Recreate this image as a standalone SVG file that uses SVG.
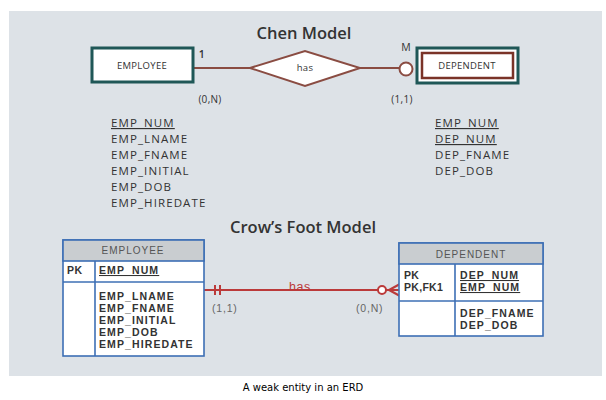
<svg xmlns="http://www.w3.org/2000/svg" width="606" height="400" viewBox="0 0 606 400">
<style>
.title{font-family:"Open Sans","Liberation Sans",sans-serif;font-weight:600;font-size:16.5px;fill:#333;text-anchor:middle}
.chenlab{font-family:"Open Sans","Liberation Sans",sans-serif;font-size:9.5px;fill:#333;text-anchor:middle;letter-spacing:0.3px}
.attr{font-family:"Open Sans","Liberation Sans",sans-serif;font-size:11.5px;fill:#333;letter-spacing:1.1px}
.u{text-decoration:underline}
.cf{font-family:"Liberation Sans",Arial,sans-serif;font-weight:bold;font-size:10.5px;fill:#333;letter-spacing:1.1px}
.hdr{font-family:"Liberation Sans",Arial,sans-serif;font-size:10px;fill:#555;letter-spacing:1px;text-anchor:middle}
.card{font-family:"Liberation Sans",Arial,sans-serif;font-size:10.5px;fill:#666;letter-spacing:0.8px}
.tbl{fill:#fff;stroke:#3d6fb5;stroke-width:1.6}
.head{fill:#c9cdd0;stroke:#3d6fb5;stroke-width:1.6}
.div{stroke:#3d6fb5;stroke-width:1.6;fill:none}
.teal{fill:#fff;stroke:#1f5757;stroke-width:3}
.brown{stroke:#8a4c42;stroke-width:2;fill:none}
.red{stroke:#bb3a3a;stroke-width:2;fill:none}
</style>
<rect x="0" y="0" width="606" height="400" fill="#fff"/>
<rect x="9" y="11" width="593" height="365" fill="#dde2e7"/>

<text class="title" x="304" y="39">Chen Model</text>
<text class="title" x="303" y="233">Crow’s Foot Model</text>

<g id="connectors">
  <line class="brown" x1="193" y1="68" x2="250" y2="68"/>
  <line class="brown" x1="360" y1="68" x2="400" y2="68"/>
  <circle class="brown" cx="406" cy="69" r="6.5" style="fill:#fff"/>
  <text class="chenlab" x="202" y="58" style="font-size:10.5px;font-weight:600">1</text>
  <text class="chenlab" x="406" y="51" style="font-size:10.5px">M</text>
  <text class="chenlab" x="210" y="103" style="font-size:10px">(0,N)</text>
  <text class="chenlab" x="402" y="103" style="font-size:10px">(1,1)</text>

  <text x="300" y="291" style="font-family:'Liberation Sans',Arial,sans-serif;font-size:12.5px;fill:#bb3a3a;text-anchor:middle;letter-spacing:0.6px">has</text>
  <line class="red" x1="204" y1="290" x2="378" y2="290"/>
  <line class="red" x1="215" y1="285" x2="215" y2="295"/>
  <line class="red" x1="220" y1="285" x2="220" y2="295"/>
  <circle class="red" cx="382" cy="290" r="4" style="fill:#fff"/>
  <line class="red" x1="386" y1="290" x2="400" y2="290"/>
  <line class="red" x1="389" y1="290" x2="400" y2="284"/>
  <line class="red" x1="389" y1="290" x2="400" y2="296"/>
  <text class="card" x="212" y="312">(1,1)</text>
  <text class="card" x="356" y="312">(0,N)</text>
</g>

<g id="chen-employee">
  <rect class="teal" x="92" y="48" width="101" height="34"/>
  <text class="chenlab" x="142" y="69">EMPLOYEE</text>
</g>
<g id="chen-has">
  <polygon points="250,68 305,51 360,68 305,86" fill="#fff" stroke="#8a4c42" stroke-width="2"/>
  <text class="chenlab" x="305" y="71">has</text>
</g>
<g id="chen-dependent">
  <rect class="teal" x="417" y="48" width="101" height="35"/>
  <rect x="422" y="53" width="91" height="25" fill="none" stroke="#7a3328" stroke-width="2.5"/>
  <text class="chenlab" x="467" y="69">DEPENDENT</text>
</g>

<g id="chen-employee-attrs">
  <text class="attr u" x="111" y="127">EMP_NUM</text>
  <text class="attr" x="111" y="143">EMP_LNAME</text>
  <text class="attr" x="111" y="159">EMP_FNAME</text>
  <text class="attr" x="111" y="175">EMP_INITIAL</text>
  <text class="attr" x="111" y="191">EMP_DOB</text>
  <text class="attr" x="111" y="207">EMP_HIREDATE</text>
</g>
<g id="chen-dependent-attrs">
  <text class="attr u" x="435" y="127">EMP_NUM</text>
  <text class="attr u" x="435" y="143">DEP_NUM</text>
  <text class="attr" x="435" y="159">DEP_FNAME</text>
  <text class="attr" x="435" y="175">DEP_DOB</text>
</g>

<g id="cf-employee">
  <rect class="tbl" x="63" y="240" width="141" height="116"/>
  <rect class="head" x="63" y="240" width="141" height="21"/>
  <line class="div" x1="63" y1="282" x2="204" y2="282"/>
  <line class="div" x1="95" y1="261" x2="95" y2="356"/>
  <text class="hdr" x="133" y="254">EMPLOYEE</text>
  <text class="cf" x="67" y="274" style="letter-spacing:0.5px">PK</text>
  <text class="cf u" x="99" y="274">EMP_NUM</text>
  <text class="cf" x="99" y="300">EMP_LNAME</text>
  <text class="cf" x="99" y="312">EMP_FNAME</text>
  <text class="cf" x="99" y="324">EMP_INITIAL</text>
  <text class="cf" x="99" y="336">EMP_DOB</text>
  <text class="cf" x="99" y="348">EMP_HIREDATE</text>
</g>

<g id="cf-dependent">
  <rect class="tbl" x="399" y="243" width="144" height="93"/>
  <rect class="head" x="399" y="243" width="144" height="21"/>
  <line class="div" x1="399" y1="301" x2="543" y2="301"/>
  <line class="div" x1="455" y1="264" x2="455" y2="336"/>
  <text class="hdr" x="471" y="258">DEPENDENT</text>
  <text class="cf" x="404" y="279" style="letter-spacing:0.3px">PK</text>
  <text class="cf" x="404" y="291" style="letter-spacing:0.3px">PK,FK1</text>
  <text class="cf u" x="460" y="279">DEP_NUM</text>
  <text class="cf u" x="460" y="291">EMP_NUM</text>
  <text class="cf" x="460" y="317">DEP_FNAME</text>
  <text class="cf" x="460" y="329">DEP_DOB</text>
</g>

<text x="303" y="391" style="font-family:'DejaVu Sans',Verdana,sans-serif;font-size:10px;fill:#000;text-anchor:middle">A weak entity in an ERD</text>
</svg>
